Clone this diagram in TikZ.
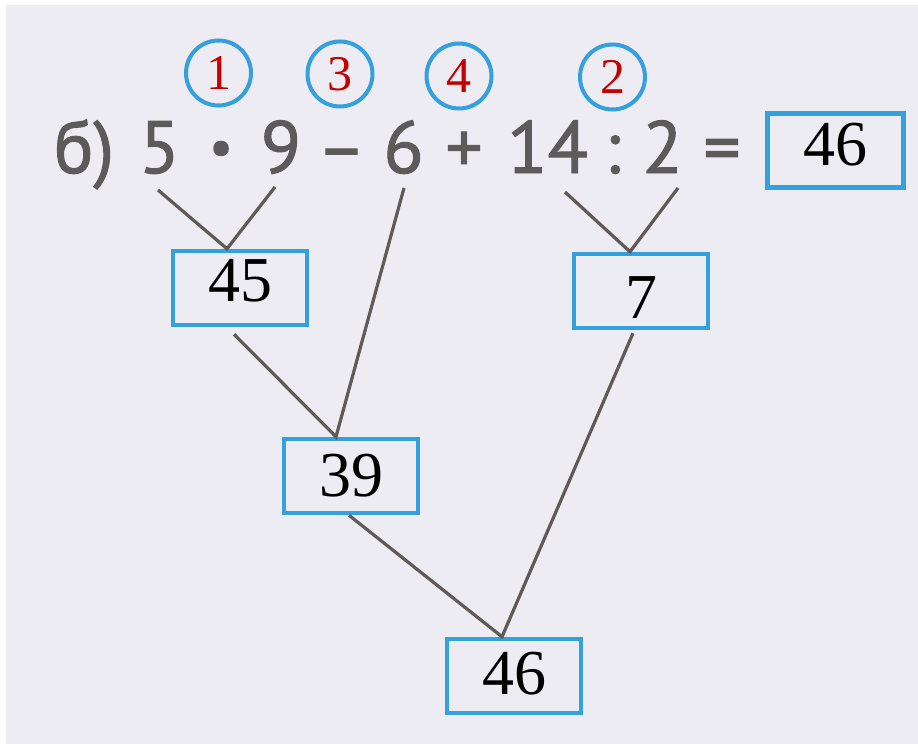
\documentclass[tikz,border=0pt]{standalone}
\usepackage{fontspec}
\setmainfont{Liberation Serif}
\newfontfamily\exprfont[FakeBold=1.3]{PT Sans}
\definecolor{bgcol}{RGB}{237,236,242}
\definecolor{boxblue}{RGB}{52,160,222}
\definecolor{numred}{RGB}{196,0,0}
\definecolor{exprgray}{RGB}{92,90,90}
\definecolor{linegray}{RGB}{95,90,88}
\begin{document}
\begin{tikzpicture}[x=1pt,y=-1pt,
  box/.style={draw=boxblue, line width=4.5pt, minimum width=134pt, minimum height=74pt, inner sep=0pt, font=\fontsize{64}{64}\selectfont},
  circ/.style={circle, draw=boxblue, line width=4pt, minimum size=65pt, inner sep=0pt, text=numred, font=\fontsize{50}{50}\selectfont},
  expr/.style={anchor=base, text=exprgray, inner sep=0pt, font=\exprfont\fontsize{74}{74}\selectfont},
  conn/.style={draw=linegray, line width=3.2pt}]
\useasboundingbox (0,0) rectangle (918,744);
\fill[white] (0,0) rectangle (918,744);
\fill[bgcol] (6,5) rectangle (918,744);
% order circles
\node[circ] (c1) at (218.5,73) {1};
\node[circ] (c3) at (340,74) {3};
\node[circ] (c4) at (459,76) {4};
\node[circ] (c2) at (612.5,77) {2};
% expression
\node[expr] (tb) at (84,173) {б)};
\node[expr] (t5) at (159.5,173) {5};
\node[expr, font=\exprfont\fontsize{120}{120}\selectfont] (tdot) at (221,184) {·};
\node[expr] (t9) at (281,173) {9};
\node[expr] (tminus) at (341.5,173) {–};
\node[expr] (t6) at (403.5,173) {6};
\node[expr] (tplus) at (464,173) {+};
\node[expr] (t14) at (547.5,173) {14};
\node[expr] (tcolon) at (612.5,173) {:};
\node[expr] (t2) at (662.5,173) {2};
\node[expr] (teq) at (722,173) {=};
\node[box, minimum width=136pt, text depth=13pt] (ans) at (835.5,150.5) {46};
% result boxes
\node[box, text depth=16pt] (b45) at (240,288) {45};
\node[box, text height=55pt] (b7) at (641,291) {7};
\node[box] (b39) at (351,476) {39};
\node[box, text depth=6pt] (b46) at (514,676) {46};
% free ends under the numbers
\coordinate (s5) at (158,190);
\coordinate (s9) at (275,187);
\coordinate (s6) at (404,188);
\coordinate (s14) at (565,192);
\coordinate (s2) at (678,188);
% connectors
\draw[conn] (s5) -- ([xshift=-13pt]b45.north) -- (s9);
\draw[conn] (s14) -- ([xshift=-11pt]b7.north) -- (s2);
\draw[conn] ([xshift=-6pt,yshift=-7pt]b45.south) -- ([xshift=-15pt]b39.north) -- (s6);
\draw[conn] ([xshift=-2pt]b39.south) -- ([xshift=-12pt]b46.north) -- ([xshift=-8pt,yshift=-3pt]b7.south);
\end{tikzpicture}
\end{document}
